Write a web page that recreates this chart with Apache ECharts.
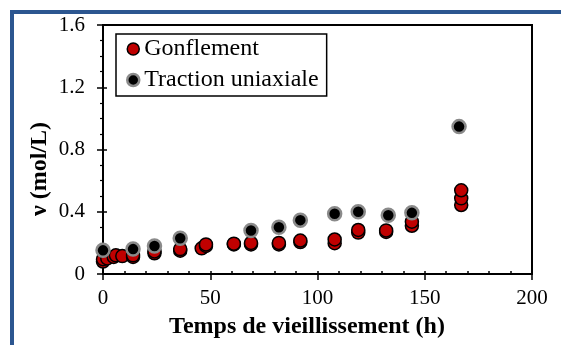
<!DOCTYPE html>
<html>
<head>
<meta charset="utf-8">
<script src="https://cdn.jsdelivr.net/npm/echarts@6/dist/echarts.min.js"></script>
<style>
  html, body { margin: 0; padding: 0; background: #fff; }
  #chart { width: 561px; height: 345px; }
</style>
</head>
<body>
<div id="chart"></div>
<script>
// Gonflement (swelling) measurements
var gonfTime = [0, 0, 2, 5, 6, 9, 14, 14, 24, 24, 36, 36, 46, 48, 48, 61, 61, 69, 69, 82, 82, 92, 92, 108, 108, 119, 119, 132, 132, 144, 144, 167, 167, 167];
var gonfNu = [0.08, 0.095, 0.10, 0.11, 0.12, 0.115, 0.11, 0.12, 0.133, 0.145, 0.15, 0.16, 0.165, 0.18, 0.19, 0.19, 0.195, 0.19, 0.2, 0.19, 0.2, 0.205, 0.215, 0.198, 0.222, 0.266, 0.283, 0.27, 0.28, 0.31, 0.336, 0.443, 0.486, 0.538];

// Traction uniaxiale measurements
var tracTime = [0, 14, 24, 36, 69, 82, 92, 108, 119, 133, 144, 166];
var tracNu = [0.152, 0.16, 0.18, 0.23, 0.28, 0.30, 0.346, 0.387, 0.40, 0.378, 0.393, 0.947];

var seriesNames = ['Gonflement', 'Traction uniaxiale'];
var xTitle = 'Temps de vieillissement (h)';
var yTitle = 'ν (mol/L)';

var font = '"Liberation Serif", "Times New Roman", serif';

function pairs(xs, ys) {
    return xs.map(function (x, i) { return [x, ys[i]]; });
}

var redStyle = { color: '#C00000', borderColor: '#000', borderWidth: 1.5, opacity: 1 };
var blackStyle = { color: '#000', borderColor: '#8a8a8a', borderWidth: 2.5, opacity: 1 };

var chart = echarts.init(document.getElementById('chart'));

var option = {
    animation: false,
    grid: {
        left: 103, right: 29, top: 25, bottom: 71,
        show: true, borderColor: '#000', borderWidth: 2, backgroundColor: '#fff'
    },
    legend: {
        left: 116, top: 34,
        orient: 'vertical',
        padding: [0, 8, 1, 10],
        itemGap: 1,
        itemWidth: 12, itemHeight: 12,
        borderColor: '#000', borderWidth: 1.5,
        backgroundColor: '#fff',
        textStyle: { fontFamily: font, fontSize: 24, color: '#000', lineHeight: 30 },
        data: [
            { name: seriesNames[0], icon: 'circle', itemStyle: redStyle },
            { name: seriesNames[1], icon: 'circle', itemStyle: blackStyle }
        ]
    },
    xAxis: [
        {
            type: 'value', min: 0, max: 200, interval: 50,
            axisLine: { lineStyle: { color: '#000', width: 2 } },
            axisTick: { inside: false, length: 6, lineStyle: { color: '#000', width: 1.5 } },
            axisLabel: { fontFamily: font, fontSize: 21, color: '#000', margin: 14 },
            splitLine: { show: false }
        },
        {
            type: 'value', min: 0, max: 200, interval: 10, position: 'bottom',
            axisLine: { show: false },
            axisTick: { inside: true, length: 3, lineStyle: { color: '#000', width: 1.5 } },
            axisLabel: { show: false },
            splitLine: { show: false }
        }
    ],
    yAxis: [
        {
            type: 'value', min: 0, max: 1.6, interval: 0.4,
            axisLine: { show: true, lineStyle: { color: '#000', width: 2 } },
            axisTick: { show: true, inside: false, length: 6, lineStyle: { color: '#000', width: 1.5 } },
            minorTick: { show: true, splitNumber: 4, length: 3, lineStyle: { color: '#000', width: 1.2 } },
            axisLabel: { fontFamily: font, fontSize: 21, color: '#000', margin: 18 },
            splitLine: { show: false }
        },
        {
            type: 'value', min: 0, max: 1.6, interval: 0.4, position: 'left',
            axisLine: { show: false },
            axisTick: { show: true, inside: true, length: 4, lineStyle: { color: '#000', width: 1.5 } },
            axisLabel: { show: false },
            splitLine: { show: false }
        }
    ],
    graphic: [
        {
            type: 'polyline', silent: true,
            shape: { points: [[12, 345], [12, 12], [561, 12]] },
            style: { stroke: '#2C5690', lineWidth: 4, fill: null }
        },
        {
            type: 'text',
            x: 307, y: 327,
            style: {
                text: xTitle, x: 0, y: 0,
                fontFamily: font, fontSize: 24, fontWeight: 'bold', fill: '#000',
                textAlign: 'center', textVerticalAlign: 'middle'
            }
        },
        {
            type: 'text',
            x: 40, y: 169, rotation: Math.PI / 2,
            style: {
                text: yTitle, x: 0, y: 0,
                fontFamily: font, fontSize: 24, fontWeight: 'bold', fill: '#000',
                textAlign: 'center', textVerticalAlign: 'middle'
            }
        }
    ],
    series: [
        {
            name: seriesNames[0], type: 'scatter',
            symbol: 'circle', symbolSize: 13,
            itemStyle: redStyle,
            data: pairs(gonfTime, gonfNu)
        },
        {
            name: seriesNames[1], type: 'scatter',
            symbol: 'circle', symbolSize: 13,
            itemStyle: blackStyle,
            data: pairs(tracTime, tracNu)
        }
    ]
};

chart.setOption(option);
</script>
</body>
</html>
